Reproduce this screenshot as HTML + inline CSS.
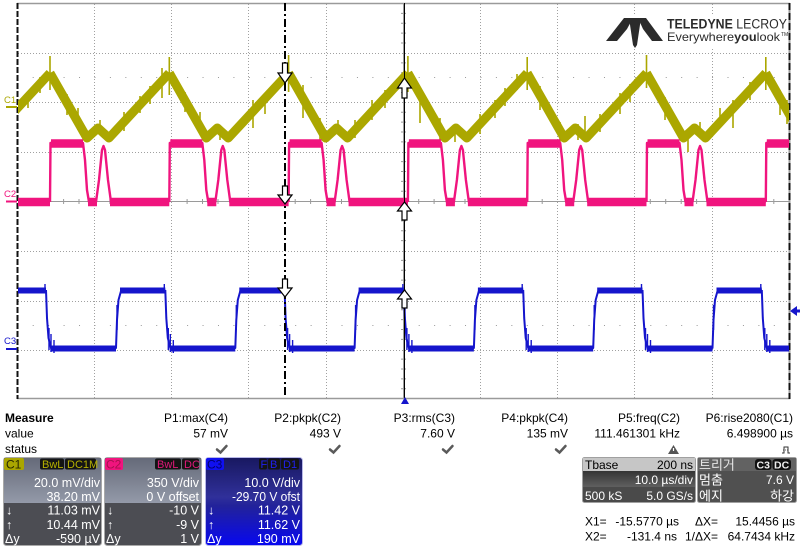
<!DOCTYPE html>
<html><head><meta charset="utf-8">
<style>
html,body{margin:0;padding:0;background:#fff;}
svg{display:block;}
text{font-family:"Liberation Sans","Noto Sans CJK KR",sans-serif;}
.k{font-family:"Liberation Sans","Noto Sans CJK KR",sans-serif;}
</style></head>
<body>
<svg width="800" height="547" viewBox="0 0 800 547" xmlns="http://www.w3.org/2000/svg">
<defs>
  <clipPath id="pc"><rect x="18" y="4" width="771" height="394"/></clipPath>
  <linearGradient id="gup" x1="0" y1="0" x2="0" y2="1">
    <stop offset="0" stop-color="#656a79"/><stop offset="1" stop-color="#949aa9"/>
  </linearGradient>
  <linearGradient id="gblue" x1="0" y1="0" x2="0" y2="1">
    <stop offset="0" stop-color="#181860"/><stop offset="0.45" stop-color="#30309a"/>
    <stop offset="0.55" stop-color="#22229a"/><stop offset="1" stop-color="#0808f0"/>
  </linearGradient>
  <linearGradient id="gtb" x1="0" y1="0" x2="0" y2="1">
    <stop offset="0" stop-color="#343434"/><stop offset="1" stop-color="#606060"/>
  </linearGradient>
  <g id="c1"><path d="M0,73 L37,138 L48,128 L59,138 L119.3,73"/></g>
  <g id="c2">
    <path d="M0,202 L0.5,143 L33,143 L35,160 L37,190 L39,202 L46,202 L49,180 L52,150 L53.5,146 L55,150 L58,180 L61,202 L119.3,202" stroke-width="2.4"/>
    <path d="M1,143.5 H33 M38,202 H47 M60,202 H119.3" stroke-width="8.5"/>
  </g>
  <g id="c3">
    <path d="M0,290 L1,318 L2.5,338 L5,348 L70,348 L71,320 L72.5,300 L75,291 L119.3,290" stroke-width="2"/>
    <path d="M5,348.5 H70 M74,290.5 H119.3" stroke-width="6"/>
    <path d="M3,328 V350 M5,334 V352 M8,340 V353 M71,305 V330 M-1,284 V292" stroke-width="1.4"/>
  </g>
</defs>

<!-- grid -->
<g stroke="#a0a0a0" stroke-width="1" stroke-dasharray="1 2" fill="none">
  <path d="M94.5,4 V398 M171.5,4 V398 M248.5,4 V398 M326.5,4 V398 M480.5,4 V398 M557.5,4 V398 M634.5,4 V398 M712.5,4 V398"/>
  <path d="M18,53.5 H789 M18,102.5 H789 M18,152.5 H789 M18,251.5 H789 M18,301.5 H789 M18,350.5 H789"/>
</g>
<g stroke="#9a9a9a" stroke-width="1" stroke-dasharray="1 14.44" fill="none">
  <path d="M32.7,77.5 H789 M32.7,325.5 H789"/>
</g>
<g stroke="#9a9a9a" stroke-width="1" fill="none">
  <path d="M18,201.5 H789"/>
  <path d="M403.5,4 V398"/>
</g>
<g stroke="#9a9a9a" stroke-width="1" fill="none">
  <path d="M32.7,199 V204 M48.2,199 V204 M63.6,199 V204 M79,199 V204 M109.9,199 V204 M125.3,199 V204 M140.8,199 V204 M156.2,199 V204 M187.1,199 V204 M202.5,199 V204 M218,199 V204 M233.4,199 V204 M264.3,199 V204 M279.7,199 V204 M295.2,199 V204 M310.6,199 V204 M341.5,199 V204 M356.9,199 V204 M372.4,199 V204 M387.8,199 V204 M418.7,199 V204 M434.1,199 V204 M449.6,199 V204 M465,199 V204 M495.9,199 V204 M511.3,199 V204 M526.8,199 V204 M542.2,199 V204 M573.1,199 V204 M588.5,199 V204 M604,199 V204 M619.4,199 V204 M650.3,199 V204 M665.7,199 V204 M681.2,199 V204 M696.6,199 V204 M727.5,199 V204 M742.9,199 V204 M758.4,199 V204 M773.8,199 V204"/>
  <path d="M401,13.4 H406 M401,23.3 H406 M401,33.1 H406 M401,43 H406 M401,62.9 H406 M401,72.8 H406 M401,82.6 H406 M401,92.5 H406 M401,112.3 H406 M401,122.1 H406 M401,132 H406 M401,141.9 H406 M401,161.6 H406 M401,171.5 H406 M401,181.4 H406 M401,191.3 H406 M401,211 H406 M401,220.9 H406 M401,230.8 H406 M401,240.6 H406 M401,260.4 H406 M401,270.3 H406 M401,280.1 H406 M401,290 H406 M401,309.8 H406 M401,319.6 H406 M401,329.5 H406 M401,339.4 H406 M401,359.1 H406 M401,369 H406 M401,378.9 H406 M401,388.8 H406"/>
</g>
<!-- borders -->
<path d="M17,3.5 H790 M17,398.5 H790" stroke="#9a9a9a" stroke-width="1.5"/>
<path d="M789.5,3 V399" stroke="#9a9a9a" stroke-width="2"/>
<path d="M789.5,3 V399" stroke="#111" stroke-width="2" stroke-dasharray="7 3"/>
<path d="M17.5,3 V399" stroke="#111" stroke-width="2" stroke-dasharray="6 2"/>

<!-- logo -->
<rect x="604" y="15" width="184" height="32" fill="#fff"/>
<g fill="#2b2b2b">
  <polygon points="606,41 624,18 633,18 627,29 617,41"/>
  <polygon points="629,18 641,18 637,45 635,48 633,45"/>
  <polygon points="638,18 646,18 663,41 652,41 643,29"/>
</g>
<text x="667" y="28.5" font-size="13.5" fill="#2b2b2b" textLength="120" lengthAdjust="spacingAndGlyphs"><tspan font-weight="bold">TELEDYNE</tspan> LECROY</text>
<text x="667" y="41" font-size="12" fill="#2b2b2b" textLength="113" lengthAdjust="spacingAndGlyphs">Everywhere<tspan font-weight="bold">you</tspan>look</text>
<text x="781" y="36" font-size="5" fill="#2b2b2b">TM</text>

<!-- traces -->
<g clip-path="url(#pc)" fill="none" stroke-linejoin="round">
  <g stroke="#aba700" stroke-width="9">
    <use href="#c1" x="-69.3"/><use href="#c1" x="50"/><use href="#c1" x="169.3"/><use href="#c1" x="288.6"/>
    <use href="#c1" x="407.9"/><use href="#c1" x="527.2"/><use href="#c1" x="646.5"/><use href="#c1" x="765.8"/>
  </g>
  <path stroke="#aba700" stroke-width="1.6" d="M50,56 V90 M169.3,57 V95 M288.6,55 V92 M407.9,56 V92 M527.2,57 V90 M646.5,55 V88 M765.8,57 V90 M40,77 V93 M67,94 V115 M124,112 V131 M140,96 V113 M162,68 V98 M185,92 V112 M253,100 V128 M303,85 V118 M372,100 V120 M385,90 V108 M420,97 V123 M480,114 V134 M495,100 V118 M505,88 V106 M540,86 V110 M560,122 V142 M600,114 V132 M620,93 V114 M665,97 V120 M688,135 V152 M733,100 V128 M780,90 V115 M787,100 V124 M100,120 V134 M220,126 V140 M338,120 V134 M578,124 V140 M700,122 V136 M28,93 V108 M78,108 V130 M150,86 V104 M200,112 V132 M265,100 V114 M320,118 V140 M355,120 V138 M440,118 V140 M455,124 V142 M517,74 V90 M585,116 V132 M630,84 V102 M720,108 V126 M750,82 V100"/>
  <g stroke="#f0147e">
    <use href="#c2" x="-69.3"/><use href="#c2" x="50"/><use href="#c2" x="169.3"/><use href="#c2" x="288.6"/>
    <use href="#c2" x="407.9"/><use href="#c2" x="527.2"/><use href="#c2" x="646.5"/><use href="#c2" x="765.8"/>
  </g>
  <g stroke="#1515cc">
    <use href="#c3" x="-73.3"/><use href="#c3" x="46"/><use href="#c3" x="165.3"/><use href="#c3" x="284.6"/>
    <use href="#c3" x="403.9"/><use href="#c3" x="523.2"/><use href="#c3" x="642.5"/><use href="#c3" x="761.8"/>
  </g>
</g>

<!-- channel markers left -->
<text x="4" y="103" font-size="9.5" fill="#aba700">C1</text>
<path d="M6,107 H17" stroke="#aba700" stroke-width="2"/>
<text x="4" y="197" font-size="9.5" fill="#f0147e">C2</text>
<path d="M6,201.5 H17" stroke="#f0147e" stroke-width="2"/>
<text x="4" y="344" font-size="9.5" fill="#1515cc">C3</text>
<path d="M6,349 H17" stroke="#1515cc" stroke-width="2"/>

<!-- cursors -->
<path d="M285,3 V398" stroke="#000" stroke-width="2" stroke-dasharray="8 3 2 3"/>
<path d="M404.5,3 V398" stroke="#000" stroke-width="1"/>
<g fill="#fff" stroke="#000" stroke-width="1.2">
  <path transform="translate(285,83)" d="M-2.5,-20 H2.5 V-10 H7 L0,0 L-7,-10 H-2.5 Z"/>
  <path transform="translate(285,204)" d="M-2.5,-18 H2.5 V-9 H7 L0,0 L-7,-9 H-2.5 Z"/>
  <path transform="translate(285,297)" d="M-2.5,-18 H2.5 V-9 H7 L0,0 L-7,-9 H-2.5 Z"/>
  <path transform="translate(404.5,78)" d="M-2.5,20 H2.5 V10 H7 L0,0 L-7,10 H-2.5 Z"/>
  <path transform="translate(404.5,202)" d="M-2.5,18 H2.5 V9 H7 L0,0 L-7,9 H-2.5 Z"/>
  <path transform="translate(404.5,290)" d="M-2.5,18 H2.5 V9 H7 L0,0 L-7,9 H-2.5 Z"/>
</g>

<!-- trigger markers -->
<polygon points="790,311 797,306 797,316" fill="#1515cc"/>
<path d="M796,311 H800" stroke="#1515cc" stroke-width="3"/>
<polygon points="405,397 409,404 401,404" fill="#1515cc"/>

<!-- measure table -->
<g font-size="12" fill="#000">
  <text x="5" y="422" font-weight="bold">Measure</text>
  <text x="5" y="437.5">value</text>
  <text x="5" y="453">status</text>
  <g text-anchor="end">
    <text x="228" y="422">P1:max(C4)</text>
    <text x="341" y="422">P2:pkpk(C2)</text>
    <text x="455" y="422">P3:rms(C3)</text>
    <text x="568" y="422">P4:pkpk(C4)</text>
    <text x="680" y="422">P5:freq(C2)</text>
    <text x="793" y="422">P6:rise2080(C1)</text>
    <text x="228" y="437.5">57 mV</text>
    <text x="341" y="437.5">493 V</text>
    <text x="455" y="437.5">7.60 V</text>
    <text x="568" y="437.5">135 mV</text>
    <text x="680" y="437.5">111.461301 kHz</text>
    <text x="793" y="437.5">6.498900 µs</text>
  </g>
</g>
<g stroke="#5a5a5a" stroke-width="2.5" fill="none" stroke-linecap="round">
  <path d="M217,449.5 L220.5,452.5 L226.5,446"/>
  <path d="M330,449.5 L333.5,452.5 L339.5,446"/>
  <path d="M443,449.5 L446.5,452.5 L452.5,446"/>
  <path d="M556,449.5 L559.5,452.5 L565.5,446"/>
</g>
<polygon points="673.5,445 679,454 668,454" fill="#555"/>
<path d="M673.5,448 V451" stroke="#fff" stroke-width="1.2"/>
<path d="M782,453 H784 V447 H788 V453 H790" stroke="#333" stroke-width="1" fill="none"/>
<path d="M783,450 H789" stroke="#333" stroke-width="0.8" stroke-dasharray="1 1"/>

<!-- C1 box -->
<rect x="3.5" y="457.5" width="98" height="88" rx="3" fill="#4c4d53" stroke="#a9a9a9"/>
<rect x="4" y="458" width="97" height="45" fill="url(#gup)"/>
<rect x="4" y="458" width="20" height="12" rx="2" fill="#aaa600"/>
<text x="6" y="468.5" font-size="12" fill="#2a2a00">C1</text>
<rect x="40" y="458.5" width="24" height="11" rx="2" fill="#141414"/>
<text x="42" y="468" font-size="11" fill="#b5b000">BwL</text>
<rect x="65" y="458.5" width="31" height="11" rx="2" fill="#141414"/>
<text x="67" y="468" font-size="11" fill="#b5b000">DC1M</text>
<g font-size="12.5" fill="#fff">
  <g text-anchor="end">
    <text x="100" y="487">20.0 mV/div</text>
    <text x="100" y="501">38.20 mV</text>
    <text x="100" y="514.5">11.03 mV</text>
    <text x="100" y="529">10.44 mV</text>
    <text x="100" y="543">-590 µV</text>
  </g>
  <text x="6" y="514.5">↓</text><text x="6" y="529">↑</text><text x="5" y="543">Δy</text>
</g>

<!-- C2 box -->
<rect x="104.5" y="457.5" width="97" height="88" rx="3" fill="#4c4d53" stroke="#a9a9a9"/>
<rect x="105" y="458" width="96" height="45" fill="url(#gup)"/>
<rect x="105" y="458" width="18" height="12" rx="2" fill="#f0147e"/>
<text x="106" y="468.5" font-size="12" fill="#a8104f">C2</text>
<rect x="155" y="458.5" width="26" height="11" rx="2" fill="#141414"/>
<text x="157" y="468" font-size="11" fill="#e0187a">BwL</text>
<rect x="182" y="458.5" width="17" height="11" rx="2" fill="#141414"/>
<text x="184" y="468" font-size="11" fill="#e0187a">DC</text>
<g font-size="12.5" fill="#fff">
  <g text-anchor="end">
    <text x="199" y="487">350 V/div</text>
    <text x="199" y="501">0 V offset</text>
    <text x="199" y="514.5">-10 V</text>
    <text x="199" y="529">-9 V</text>
    <text x="199" y="543">1 V</text>
  </g>
  <text x="107" y="514.5">↓</text><text x="107" y="529">↑</text><text x="106" y="543">Δy</text>
</g>

<!-- C3 box -->
<rect x="205.5" y="457.5" width="97" height="88" rx="3" fill="url(#gblue)" stroke="#b8b8e8"/>
<rect x="206" y="458" width="18" height="12" rx="2" fill="#1010f0"/>
<text x="207" y="468.5" font-size="12" fill="#000070">C3</text>
<rect x="259" y="458.5" width="8" height="11" rx="2" fill="#141414"/>
<text x="260.5" y="468" font-size="11" fill="#2020f0">F</text>
<rect x="268" y="458.5" width="12" height="11" rx="2" fill="#141414"/>
<text x="270" y="468" font-size="11" fill="#2020f0">B</text>
<rect x="281" y="458.5" width="18" height="11" rx="2" fill="#141414"/>
<text x="283" y="468" font-size="11" fill="#2020f0">D1</text>
<g font-size="12.5" fill="#fff">
  <g text-anchor="end">
    <text x="300" y="487">10.0 V/div</text>
    <text x="300" y="501" textLength="68" lengthAdjust="spacingAndGlyphs">-29.70 V ofst</text>
    <text x="300" y="514.5">11.42 V</text>
    <text x="300" y="529">11.62 V</text>
    <text x="300" y="543">190 mV</text>
  </g>
  <text x="208" y="514.5">↓</text><text x="208" y="529">↑</text><text x="207" y="543">Δy</text>
</g>

<!-- Tbase box -->
<rect x="582.5" y="457.5" width="113" height="45" rx="2" fill="#4a4a4a" stroke="#a0a0a0"/>
<rect x="583" y="458" width="112" height="13" fill="#c6c6c6"/>
<rect x="583" y="471" width="112" height="16" fill="url(#gtb)"/>
<text x="585" y="469" font-size="12" fill="#000">Tbase</text>
<text x="693" y="469" font-size="12" fill="#000" text-anchor="end">200 ns</text>
<g font-size="12" fill="#fff">
  <text x="693" y="484" text-anchor="end">10.0 µs/div</text>
  <text x="585" y="500">500 kS</text>
  <text x="693" y="500" text-anchor="end">5.0 GS/s</text>
</g>

<!-- Trigger box -->
<rect x="697.5" y="457.5" width="99" height="45" rx="2" fill="#505050" stroke="#a0a0a0"/>
<rect x="698" y="458" width="98" height="13" fill="#626262"/>
<text x="699" y="469.5" font-size="13" fill="#e6e6e6" class="k">트리거</text>
<rect x="755" y="459" width="16.5" height="11" rx="3" fill="#111"/>
<text x="756.5" y="468.5" font-size="10.5" font-weight="bold" fill="#eee">C3</text>
<rect x="772.5" y="459" width="18.5" height="11" rx="3" fill="#111"/>
<text x="774" y="468.5" font-size="10.5" font-weight="bold" fill="#eee">DC</text>
<g font-size="13" fill="#fff" class="k">
  <text x="699" y="484.5">멈춤</text>
  <text x="794" y="484" text-anchor="end" font-size="12">7.6 V</text>
  <text x="699" y="500.5">에지</text>
  <text x="794" y="500.5" text-anchor="end">하강</text>
</g>

<!-- cursor readouts -->
<g font-size="12" fill="#000">
  <text x="585" y="525.5">X1=</text>
  <text x="679" y="525.5" text-anchor="end">-15.5770 µs</text>
  <text x="695" y="525.5">ΔX=</text>
  <text x="795" y="525.5" text-anchor="end">15.4456 µs</text>
  <text x="585" y="540.5">X2=</text>
  <text x="677" y="540.5" text-anchor="end">-131.4 ns</text>
  <text x="685" y="540.5">1/ΔX=</text>
  <text x="795" y="540.5" text-anchor="end">64.7434 kHz</text>
</g>
</svg>
</body></html>
